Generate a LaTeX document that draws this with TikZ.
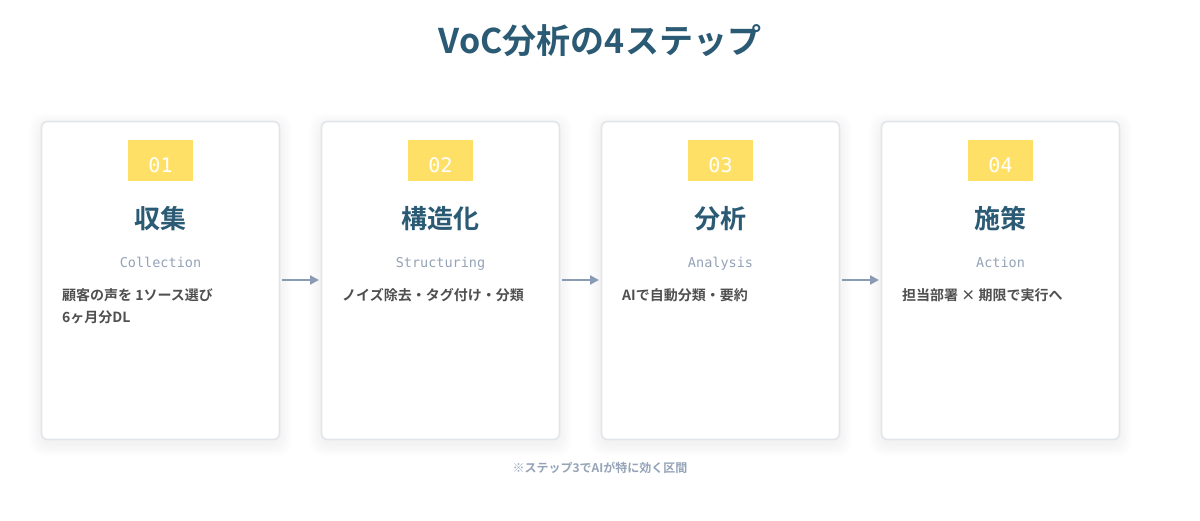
\documentclass[tikz,border=0pt]{standalone}
\usepackage{fontspec}
\setmainfont{Noto Sans CJK JP}[BoldFont={* Bold}]
\newfontfamily\jpfont{Noto Sans CJK JP}[BoldFont={* Bold}]
\newfontfamily\monofont{DejaVu Sans Mono}
\usetikzlibrary{arrows.meta}
\definecolor{titleblue}{HTML}{2B5A74}
\definecolor{cardborder}{HTML}{E2E6EA}
\definecolor{badge}{HTML}{FFE066}
\definecolor{subgray}{HTML}{94A3B8}
\definecolor{desctext}{HTML}{4F4F4F}
\definecolor{arrowc}{HTML}{8A9BB5}
\definecolor{shadowc}{HTML}{8090A0}
\tikzset{
  card/.style={draw=cardborder, line width=1.6pt, fill=white, rounded corners=6pt,
    minimum width=238pt, minimum height=318pt, inner sep=0pt},
  badgebox/.style={fill=badge, minimum width=65pt, minimum height=41pt, inner sep=0pt},
  badgenum/.style={text=white, font=\monofont\fontsize{20}{20}\selectfont, inner sep=0pt, anchor=base},
  headtext/.style={text=titleblue, font=\jpfont\bfseries\fontsize{26}{26}\selectfont, inner sep=0pt},
  subtext/.style={text=subgray, font=\monofont\fontsize{13.5}{14}\selectfont, inner sep=0pt, anchor=base},
  desc/.style={text=desctext, font=\jpfont\bfseries\fontsize{14}{22}\selectfont, inner sep=0pt,
    align=left, anchor=north west},
  flowarrow/.style={draw=arrowc, line width=2.5pt, -{Triangle[length=9pt,width=9pt]}},
}
\newcommand{\softshadow}[1]{%
  \foreach \k in {1,...,12}{
    \fill[shadowc, opacity=0.007, rounded corners=12pt]
      ([xshift=-\k pt, yshift=-\k pt-4pt]#1.south west) rectangle ([xshift=\k pt, yshift=\k pt-4pt]#1.north east);
  }}
\begin{document}
\begin{tikzpicture}[x=1pt,y=-1pt]
\useasboundingbox (0,0) rectangle (1200,520);
\fill[white] (0,0) rectangle (1200,520);
\node[text=titleblue, font=\jpfont\bfseries\fontsize{34}{34}\selectfont, inner sep=0pt] (title) at (600,41) {VoC分析の4ステップ};

% card placeholders for shadows
\path (160.5,280.5) node[minimum width=238pt, minimum height=318pt, inner sep=0pt] (p1) {};
\path (440.5,280.5) node[minimum width=238pt, minimum height=318pt, inner sep=0pt] (p2) {};
\path (720.5,280.5) node[minimum width=238pt, minimum height=318pt, inner sep=0pt] (p3) {};
\path (1000.5,280.5) node[minimum width=238pt, minimum height=318pt, inner sep=0pt] (p4) {};
\softshadow{p1}\softshadow{p2}\softshadow{p3}\softshadow{p4}

% cards
\node[card] (c1) at (160.5,280.5) {};
\node[card] (c2) at (440.5,280.5) {};
\node[card] (c3) at (720.5,280.5) {};
\node[card] (c4) at (1000.5,280.5) {};

% badges
\node[badgebox] (b1) at (160.5,160.5) {};
\node[badgebox] (b2) at (440.5,160.5) {};
\node[badgebox] (b3) at (720.5,160.5) {};
\node[badgebox] (b4) at (1000.5,160.5) {};
\node[badgenum] (n1) at (160.5,172) {01};
\node[badgenum] (n2) at (440.5,172) {02};
\node[badgenum] (n3) at (720.5,172) {03};
\node[badgenum] (n4) at (1000.5,172) {04};

% headings
\node[headtext] (h1) at (160.5,219) {収集};
\node[headtext] (h2) at (440.5,219) {構造化};
\node[headtext] (h3) at (720.5,219) {分析};
\node[headtext] (h4) at (1000.5,219) {施策};

% subtitles
\node[subtext] (s1) at (160.5,267) {Collection};
\node[subtext] (s2) at (440.5,267) {Structuring};
\node[subtext] (s3) at (720.5,267) {Analysis};
\node[subtext] (s4) at (1000.5,267) {Action};

% descriptions
\node[desc] (d1) at (62,288) {顧客の声を 1ソース選び\\6ヶ月分DL};
\node[desc] (d2) at (342,288) {ノイズ除去・タグ付け・分類};
\node[desc] (d3) at (622,288) {AIで自動分類・要約};
\node[desc] (d4) at (902,288) {担当部署 × 期限で実行へ};

% arrows
\coordinate (a1s) at (282,280); \coordinate (a1e) at (319,280);
\coordinate (a2s) at (562,280); \coordinate (a2e) at (599,280);
\coordinate (a3s) at (842,280); \coordinate (a3e) at (879,280);
\draw[flowarrow] (a1s) -- (a1e);
\draw[flowarrow] (a2s) -- (a2e);
\draw[flowarrow] (a3s) -- (a3e);

\node[text=subgray, font=\jpfont\bfseries\fontsize{12}{12}\selectfont, inner sep=0pt] (note) at (600,468) {※ステップ3でAIが特に効く区間};
\end{tikzpicture}
\end{document}
